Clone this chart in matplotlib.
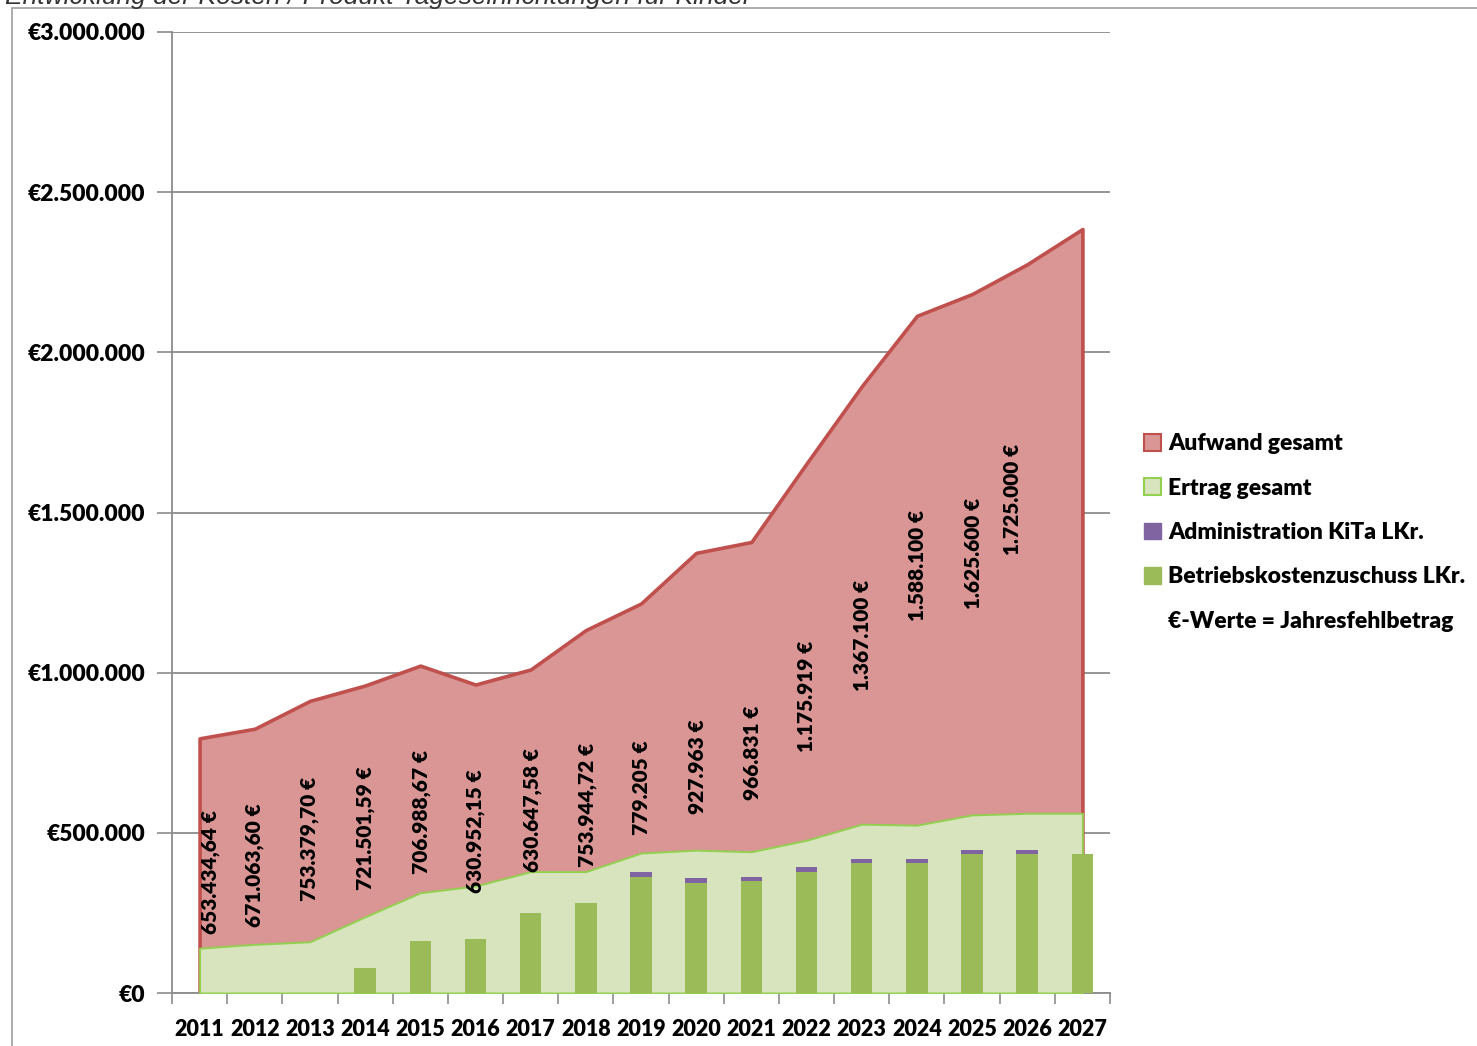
import matplotlib
matplotlib.use("Agg")
import matplotlib.pyplot as plt
from matplotlib.patches import Patch, Rectangle
import numpy as np

# ---------------- data ----------------
years = ["2011", "2012", "2013", "2014", "2015", "2016", "2017", "2018", "2019",
         "2020", "2021", "2022", "2023", "2024", "2025", "2026", "2027"]
aufwand = [795000, 825000, 912000, 960000, 1022000, 963000, 1010000, 1133000, 1216000,
           1374000, 1408000, 1653000, 1894000, 2114000, 2182000, 2275000, 2385000]
ertrag = [140000, 152000, 160000, 238000, 313000, 334000, 379000, 379000, 437000,
          446000, 441000, 477000, 527000, 524000, 556000, 561000, 561000]
betrieb = [0, 0, 0, 77000, 163000, 168000, 251000, 282000, 363000,
           344000, 350000, 377000, 405000, 405000, 433000, 433000, 433000]
admin = [0, 0, 0, 0, 0, 0, 0, 0, 15000,
         14000, 13000, 15000, 14000, 14000, 13000, 13000, 0]
fehl_labels = ["653.434,64 €", "671.063,60 €", "753.379,70 €", "721.501,59 €",
               "706.988,67 €", "630.952,15 €", "630.647,58 €", "753.944,72 €",
               "779.205 €", "927.963 €", "966.831 €", "1.175.919 €", "1.367.100 €",
               "1.588.100 €", "1.625.600 €", "1.725.000 €"]
# vertical placement of the labels (data units) and small horizontal shifts
fehl_label_y = [378000, 400000, 481000, 515000, 565000, 506000, 571000, 587000, 640000,
                708000, 749000, 927000, 1117000, 1336000, 1373000, 1542000]
fehl_label_dx = [0.2, 0, 0, 0, 0.03, 0, 0.03, 0.03, 0, 0.02, 0.02, 0, 0.02, 0.02, 0.02, -0.27]
ytick_vals = [0, 500000, 1000000, 1500000, 2000000, 2500000, 3000000]
ytick_labels = ["€0", "€500.000", "€1.000.000", "€1.500.000", "€2.000.000",
                "€2.500.000", "€3.000.000"]
legend_labels = ["Aufwand gesamt", "Ertrag gesamt", "Administration KiTa LKr.",
                 "Betriebskostenzuschuss LKr.", "€-Werte = Jahresfehlbetrag"]
title = "Entwicklung der Kosten / Produkt Tageseinrichtungen für Kinder"

# ---------------- styles ----------------
RED_FILL = "#D99694"
RED_EDGE = "#C0504D"
GREEN_FILL = "#D7E4BD"
GREEN_EDGE = "#92D050"
BAR_GREEN = "#9BBB59"
PURPLE = "#8064A2"
GRID = "#8C8C8C"
FONT = ["Lato", "DejaVu Sans"]

plt.rcParams["font.family"] = FONT

W, H = 1477, 1046
fig = plt.figure(figsize=(W / 100, H / 100), dpi=100)
fig.patch.set_facecolor("white")

# outer frame of the chart object (partly cut off)
fig.patches.append(Rectangle((12 / W, -0.05), 1.2, 1 - 8 / H + 0.05, transform=fig.transFigure,
                             fill=False, edgecolor="#A0A0A0", lw=1.2))
# title (cut off at the top of the image, as in the source)
fig.text(5 / W, 1 - 4 / H, title, ha="left", va="baseline", fontsize=19,
         style="italic", family=["Liberation Sans", "DejaVu Sans"], color="#333333")

ax = fig.add_axes([172 / W, 53 / H, (1110 - 172) / W, (993 - 32) / H])
x = np.arange(len(years))

ax.fill_between(x, 0, aufwand, facecolor=RED_FILL, edgecolor=RED_EDGE, lw=2.6, zorder=2)
ax.fill_between(x, 0, ertrag, facecolor=GREEN_FILL, edgecolor=GREEN_EDGE, lw=1.4, zorder=3)
ax.bar(x, betrieb, width=0.39, color=BAR_GREEN, zorder=4)
ax.bar(x, admin, width=0.39, bottom=betrieb, color=PURPLE, zorder=4)

for i, (lab, ly) in enumerate(zip(fehl_labels, fehl_label_y)):
    ax.text(i + fehl_label_dx[i], ly, lab, rotation=90, ha="center", va="center",
            fontsize=15, fontweight="heavy", color="black", zorder=6)

ax.set_xlim(-0.5, len(years) - 0.5)
ax.set_ylim(0, 3000000)
ax.set_yticks(ytick_vals)
ax.set_yticklabels(ytick_labels, fontsize=16.5, fontweight="heavy")
ax.set_xticks(x)
ax.set_xticklabels(years, fontsize=15.5, fontweight="heavy")
ax.set_xticks(np.arange(-0.5, len(years), 1.0), minor=True)
ax.tick_params(axis="x", which="major", length=0, pad=19)
ax.tick_params(axis="x", which="minor", length=8, color=GRID, width=1.2)
ax.tick_params(axis="y", length=11, color=GRID, width=1.2, pad=8)
ax.yaxis.grid(True, color=GRID, lw=1.3, zorder=0)
ax.set_axisbelow(True)
for s in ["top", "right"]:
    ax.spines[s].set_visible(False)
for s in ["left", "bottom"]:
    ax.spines[s].set_color(GRID)
    ax.spines[s].set_linewidth(1.3)
ax.set_facecolor("white")

handles = [Patch(facecolor=RED_FILL, edgecolor=RED_EDGE, lw=1.5),
           Patch(facecolor=GREEN_FILL, edgecolor=GREEN_EDGE, lw=1.5),
           Patch(facecolor=PURPLE, edgecolor=PURPLE),
           Patch(facecolor=BAR_GREEN, edgecolor=BAR_GREEN),
           Patch(facecolor="none", edgecolor="none")]
leg = fig.legend(handles, legend_labels, loc="upper left",
                 bbox_to_anchor=(1135 / W, 1 - 424 / H), frameon=False,
                 handlelength=0.75, handleheight=0.75, handletextpad=0.3,
                 labelspacing=1.02, borderaxespad=0,
                 prop={"family": FONT, "weight": "heavy", "size": 16.5})

fig.savefig("out.png", dpi=100, facecolor="white")
